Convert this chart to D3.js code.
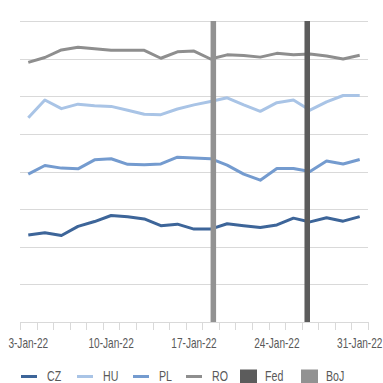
<!DOCTYPE html>
<html>
<head>
<meta charset="utf-8">
<script src="https://cdn.jsdelivr.net/npm/d3@7"></script>
<style>
  html, body { margin: 0; padding: 0; background: #ffffff; }
  svg { display: block; }
  text { font-family: "Liberation Sans", Arial, sans-serif; fill: #595959; }
</style>
</head>
<body>
<svg id="chart" width="383" height="383"></svg>
<script>
// Business days, January 2022
const dates = ["3-Jan-22","4-Jan-22","5-Jan-22","6-Jan-22","7-Jan-22",
  "10-Jan-22","11-Jan-22","12-Jan-22","13-Jan-22","14-Jan-22",
  "17-Jan-22","18-Jan-22","19-Jan-22","20-Jan-22","21-Jan-22",
  "24-Jan-22","25-Jan-22","26-Jan-22","27-Jan-22","28-Jan-22",
  "31-Jan-22"];
const tickLabels = ["3-Jan-22","10-Jan-22","17-Jan-22","24-Jan-22","31-Jan-22"];

const cz = [2.31,2.37,2.30,2.54,2.67,2.83,2.80,2.74,2.56,2.60,2.47,2.47,2.61,2.56,2.51,2.58,2.76,2.66,2.77,2.68,2.80];
const hu = [5.43,5.90,5.67,5.79,5.75,5.73,5.63,5.52,5.51,5.66,5.77,5.86,5.96,5.77,5.60,5.83,5.90,5.63,5.85,6.02,6.02];
const pl = [3.93,4.16,4.09,4.07,4.31,4.34,4.19,4.18,4.20,4.38,4.36,4.34,4.17,3.93,3.77,4.08,4.08,4.00,4.28,4.20,4.32];
const ro = [6.90,7.03,7.23,7.30,7.26,7.22,7.22,7.22,7.01,7.18,7.20,6.99,7.10,7.08,7.04,7.14,7.10,7.12,7.07,6.99,7.09];

// Central bank meeting days (full-height columns)
const fed = [null,null,null,null,null,null,null,null,null,null,null,null,null,null,null,null,null,8,null,null,null];
const boj = [null,null,null,null,null,null,null,null,null,null,null,8,null,null,null,null,null,null,null,null,null];

const lineSeries = [
  { name: "CZ", values: cz, color: "#3d6599" },
  { name: "HU", values: hu, color: "#a9c4e6" },
  { name: "PL", values: pl, color: "#749bcf" },
  { name: "RO", values: ro, color: "#8e8e8e" }
];
const barSeries = [
  { name: "Fed", values: fed, color: "#5c5c5c" },
  { name: "BoJ", values: boj, color: "#929292" }
];

const svg = d3.select("#chart");
const plotLeft = 20, plotRight = 368, plotTop = 21, plotBottom = 322;

const x = d3.scaleBand().domain(dates).range([plotLeft, plotRight]).padding(0);
const xSlot = d3.scaleBand().domain(barSeries.map(s => s.name))
  .range([0, x.bandwidth()]).paddingInner(0).paddingOuter(0.5);
const y = d3.scaleLinear().domain([0, 8]).range([plotBottom, plotTop]);

// Horizontal gridlines
svg.append("g").selectAll("line")
  .data(d3.range(1, 9))
  .join("line")
  .attr("x1", plotLeft).attr("x2", plotRight)
  .attr("y1", d => Math.round(y(d)) + 0.5).attr("y2", d => Math.round(y(d)) + 0.5)
  .attr("stroke", "#d9d9d9").attr("stroke-width", 1);

// Category axis: line, ticks between categories, labels every week
const axisG = svg.append("g");
axisG.append("line")
  .attr("x1", plotLeft).attr("x2", plotRight)
  .attr("y1", plotBottom + 0.5).attr("y2", plotBottom + 0.5)
  .attr("stroke", "#d9d9d9");
const boundaries = dates.map(d => x(d)).concat([plotRight]);
axisG.selectAll("line.tick")
  .data(boundaries)
  .join("line")
  .attr("class", "tick")
  .attr("x1", d => Math.round(d) + 0.5).attr("x2", d => Math.round(d) + 0.5)
  .attr("y1", plotBottom).attr("y2", plotBottom + 8)
  .attr("stroke", "#d9d9d9");
axisG.selectAll("text")
  .data(tickLabels)
  .join("text")
  .attr("transform", d => `translate(${x(d) + x.bandwidth() / 2},347.5) scale(0.72,1)`)
  .attr("text-anchor", "middle")
  .attr("font-size", 14)
  .text(d => d);

// Lines
const line = d3.line()
  .x((d, i) => x(dates[i]) + x.bandwidth() / 2)
  .y(d => y(d));
svg.append("g").selectAll("path")
  .data(lineSeries)
  .join("path")
  .attr("d", s => line(s.values))
  .attr("fill", "none")
  .attr("stroke", s => s.color)
  .attr("stroke-width", 3)
  .attr("stroke-linejoin", "round");

// Meeting-day columns
barSeries.forEach(s => {
  svg.append("g").selectAll("rect")
    .data(s.values.map((v, i) => ({ v, date: dates[i] })).filter(d => d.v != null))
    .join("rect")
    .attr("x", d => x(d.date) + xSlot(s.name))
    .attr("width", xSlot.bandwidth())
    .attr("y", d => y(d.v))
    .attr("height", d => y(0) - y(d.v))
    .attr("fill", s.color);
});

// Legend
const legendItems = [
  { name: "CZ", type: "line", color: "#3d6599", x: 21 },
  { name: "HU", type: "line", color: "#a9c4e6", x: 77 },
  { name: "PL", type: "line", color: "#749bcf", x: 133 },
  { name: "RO", type: "line", color: "#8e8e8e", x: 186 },
  { name: "Fed", type: "rect", color: "#5c5c5c", x: 240 },
  { name: "BoJ", type: "rect", color: "#929292", x: 301 }
];
const legend = svg.append("g");
legendItems.forEach(it => {
  const g = legend.append("g").attr("transform", `translate(${it.x},0)`);
  if (it.type === "line") {
    g.append("line").attr("x1", 0).attr("x2", 16).attr("y1", 376.5).attr("y2", 376.5)
      .attr("stroke", it.color).attr("stroke-width", 3);
  } else {
    g.append("rect").attr("x", 0).attr("y", 369.5).attr("width", 17).attr("height", 14)
      .attr("fill", it.color);
  }
  g.append("text")
    .attr("transform", `translate(${it.type === "line" ? 26 : 25},380.5) scale(0.76,1)`)
    .attr("font-size", 14)
    .text(it.name);
});
</script>
</body>
</html>
